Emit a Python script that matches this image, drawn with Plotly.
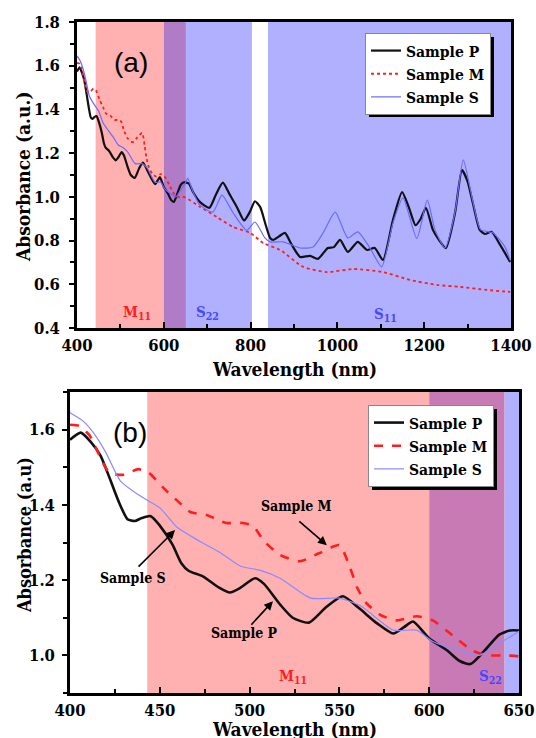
import plotly.graph_objects as go

# ---------------- data ----------------
wl_p = [400, 406, 412, 417, 422, 427, 432, 436, 440, 445, 450, 457, 462, 466, 474, 483, 489, 495,
        503, 508, 517, 524, 533, 543, 552, 561, 571, 580, 586, 591, 600, 610, 617, 623, 632, 639,
        645, 650, 658, 668, 683, 705, 720, 736, 752, 768, 785, 798, 810, 822, 835, 845, 852, 866,
        879, 895, 914, 937, 955, 978, 992, 1006, 1024, 1047, 1068, 1086, 1105, 1128, 1149, 1165,
        1180, 1192, 1204, 1220, 1235, 1250, 1271, 1287, 1300, 1312, 1328, 1340, 1355, 1375, 1398]
abs_p = [1.573, 1.592, 1.565, 1.531, 1.472, 1.41, 1.362, 1.357, 1.365, 1.37, 1.345, 1.295, 1.245,
         1.225, 1.21, 1.18, 1.167, 1.18, 1.205, 1.19, 1.135, 1.10, 1.087, 1.13, 1.157, 1.125,
         1.085, 1.058, 1.075, 1.09, 1.045, 1.013, 0.985, 0.977, 1.019, 1.055, 1.066, 1.066, 1.06,
         1.02, 0.977, 0.95, 1.01, 1.065, 1.01, 0.955, 0.892, 0.93, 0.98, 0.954, 0.87, 0.812, 0.803,
         0.82, 0.835, 0.78, 0.725, 0.73, 0.716, 0.766, 0.77, 0.803, 0.748, 0.794, 0.757, 0.766,
         0.711, 0.894, 1.022, 0.95, 0.87, 0.90, 0.95, 0.849, 0.80, 0.765, 0.926, 1.123, 1.07,
         0.972, 0.849, 0.83, 0.84, 0.78, 0.702]

wl_m = [400, 405, 411, 417, 422, 430, 438, 444, 452, 460, 467, 476, 487, 496, 502, 508, 517, 528,
        539, 550, 556, 560, 565, 573, 582, 593, 602, 613, 624, 632, 641, 650, 683, 722, 760, 799,
        829, 868, 921, 976, 1036, 1105, 1167, 1229, 1283, 1345, 1398]
abs_m = [1.613, 1.61, 1.584, 1.525, 1.485, 1.48, 1.495, 1.485, 1.445, 1.41, 1.381, 1.373, 1.352,
         1.352, 1.344, 1.304, 1.267, 1.25, 1.272, 1.293, 1.232, 1.179, 1.139, 1.107, 1.093, 1.104,
         1.093, 1.053, 1.013, 1.0, 1.0, 0.997, 0.955, 0.908, 0.862, 0.835, 0.789, 0.757, 0.68,
         0.656, 0.67, 0.656, 0.62, 0.597, 0.588, 0.574, 0.565]

wl_s = [400, 407, 413, 420, 428, 439, 450, 460, 472, 484, 495, 506, 517, 534, 550, 562, 580, 593,
        602, 617, 628, 639, 650, 655, 668, 683, 713, 734, 760, 791, 810, 833, 845, 875, 914, 944,
        967, 995, 1024, 1047, 1075, 1102, 1128, 1151, 1183, 1207, 1225, 1248, 1271, 1290, 1312,
        1330, 1359, 1386, 1398]
abs_s = [1.645, 1.624, 1.592, 1.539, 1.464, 1.424, 1.392, 1.339, 1.304, 1.272, 1.237, 1.226,
         1.205, 1.152, 1.152, 1.131, 1.067, 1.067, 1.037, 1.013, 1.0, 1.032, 1.064, 1.085, 1.02,
         0.963, 0.93, 1.008, 0.926, 0.847, 0.885, 0.812, 0.794, 0.794, 0.766, 0.771, 0.835, 0.93,
         0.812, 0.84, 0.766, 0.68, 0.88, 0.995, 0.81, 0.985, 0.849, 0.766, 0.93, 1.169, 0.98,
         0.85, 0.835, 0.771, 0.71]

series_names = ["Sample P", "Sample M", "Sample S"]

# absorption bands (nm)
band_m11 = [443, 600]
band_s22_a = [600, 651, 803]       # overlap start, overlap end, band end (panel a)
band_s11 = [840, 1400]
band_s22_b = [600, 642, 650]       # panel b

W, H = 536, 738
def px(x): return x / W
def py(y): return 1 - y / H

SERIF = "DejaVu Serif Condensed, DejaVu Serif"
SANS = "Liberation Sans"
BLACK = "#111111"
RED = "#ff1e1e"
BLUE_A = "#6a6aff"
BLUE_B = "#8a8aff"
PINK = "#ffb0b0"
LBLUE = "#b0b0ff"
PURPLE_A = "#b07cc8"
PURPLE_B = "#c87ab4"

fig = go.Figure()

# ---- panel (a)
fig.add_trace(go.Scatter(x=wl_p, y=abs_p, name=series_names[0], mode="lines",
                         line=dict(color=BLACK, width=2.2, shape="spline", smoothing=0.6),
                         xaxis="x", yaxis="y", legend="legend"))
fig.add_trace(go.Scatter(x=wl_m, y=abs_m, name=series_names[1], mode="lines",
                         line=dict(color=RED, width=1.8, dash="dot", shape="spline", smoothing=0.6),
                         xaxis="x", yaxis="y", legend="legend"))
fig.add_trace(go.Scatter(x=wl_s, y=abs_s, name=series_names[2], mode="lines",
                         line=dict(color=BLUE_A, width=1.2, shape="spline", smoothing=0.6),
                         xaxis="x", yaxis="y", legend="legend"))
# ---- panel (b)
fig.add_trace(go.Scatter(x=wl_p, y=abs_p, name=series_names[0], mode="lines",
                         line=dict(color=BLACK, width=2.6, shape="spline", smoothing=0.6),
                         xaxis="x2", yaxis="y2", legend="legend2"))
fig.add_trace(go.Scatter(x=wl_m, y=abs_m, name=series_names[1], mode="lines",
                         line=dict(color=RED, width=2.6, dash="dash", shape="spline", smoothing=0.6),
                         xaxis="x2", yaxis="y2", legend="legend2"))
fig.add_trace(go.Scatter(x=wl_s, y=abs_s, name=series_names[2], mode="lines",
                         line=dict(color=BLUE_B, width=1.2, shape="spline", smoothing=0.6),
                         xaxis="x2", yaxis="y2", legend="legend2"))

shapes = []
def band(xref, yref, x0, x1, color):
    shapes.append(dict(type="rect", xref=xref, yref=yref, x0=x0, x1=x1, y0=0, y1=1,
                       fillcolor=color, line=dict(width=0), layer="below"))

band("x", "y domain", band_m11[0], band_m11[1], PINK)
band("x", "y domain", band_s22_a[0], band_s22_a[1], PURPLE_A)
band("x", "y domain", band_s22_a[1], band_s22_a[2], LBLUE)
band("x", "y domain", band_s11[0], band_s11[1], LBLUE)
band("x2", "y2 domain", band_m11[0], band_m11[1], PINK)
band("x2", "y2 domain", band_s22_b[0], band_s22_b[1], PURPLE_B)
band("x2", "y2 domain", band_s22_b[1], band_s22_b[2], LBLUE)

# legend drop shadows (black boxes offset behind each legend box)
shapes.append(dict(type="rect", xref="paper", yref="paper", x0=px(369), x1=px(494),
                   y0=py(117), y1=py(37), fillcolor="black", line=dict(width=0), layer="above"))
shapes.append(dict(type="rect", xref="paper", yref="paper", x0=px(372), x1=px(497),
                   y0=py(490), y1=py(409), fillcolor="black", line=dict(width=0), layer="above"))

ann = []
def txt(x, y, text, size, color="black", xref="paper", yref="paper", bold=True, family=SERIF,
        angle=0):
    ann.append(dict(x=x, y=y, xref=xref, yref=yref, text=text, showarrow=False, textangle=angle,
                    font=dict(family=family, size=size, color=color,
                              weight="bold" if bold else "normal"),
                    xanchor="center", yanchor="middle"))

# panel labels
txt(px(131), py(62), "(a)", 28, bold=False, family=SANS)
txt(px(130), py(432), "(b)", 28, bold=False, family=SANS)
# axis titles
txt(px(294), py(369), "Wavelength (nm)", 19)
txt(px(294), py(729), "Wavelength (nm)", 19)
txt(px(23), py(177), "Absorbance (a.u.)", 19, angle=-90)
txt(px(24), py(535), "Absorbance (a.u)", 18, angle=-90)
# band labels
txt(538, 0.469, "M<sub>11</sub>", 15, RED, "x", "y")
txt(700, 0.469, "S<sub>22</sub>", 15, "#4848ff", "x", "y")
txt(1110, 0.462, "S<sub>11</sub>", 15, "#4848ff", "x", "y")
txt(524, 0.944, "M<sub>11</sub>", 15, RED, "x2", "y2")
txt(634, 0.944, "S<sub>22</sub>", 15, "#4848ff", "x2", "y2")
# sample callouts (panel b)
txt(526, 1.397, "Sample M", 14, xref="x2", yref="y2")
txt(435, 1.205, "Sample S", 14, xref="x2", yref="y2")
txt(497, 1.059, "Sample P", 14, xref="x2", yref="y2")
for hx, hy, ax, ay in [(543, 1.293, -29, -25), (458.5, 1.333, -38, 38), (513, 1.144, -23, 25)]:
    ann.append(dict(x=hx, y=hy, xref="x2", yref="y2", ax=ax, ay=ay, text="",
                    showarrow=True, arrowhead=2, arrowsize=1.1, arrowwidth=1.6,
                    arrowcolor="black"))

tickfont = dict(family=SERIF, size=16.5, color="black", weight="bold")
legfont = dict(family=SERIF, size=15.5, color="black", weight="bold")
common = dict(showgrid=False, zeroline=False, showline=True, linecolor="black", linewidth=2.5,
              mirror=True, tickfont=tickfont, tickcolor="black", automargin=False)

fig.update_layout(
    width=W, height=H, margin=dict(l=0, r=0, t=0, b=0),
    paper_bgcolor="white", plot_bgcolor="white",
    font=dict(family=SERIF),
    xaxis=dict(domain=[px(77), px(511)], range=[400, 1400], anchor="y", dtick=200, tick0=0,
               ticks="inside", ticklen=6, tickwidth=2,
               minor=dict(ticks="inside", ticklen=4, dtick=100, tickwidth=1.5, tickcolor="black"),
               **common),
    yaxis=dict(domain=[py(328), py(22)], range=[0.4, 1.8], anchor="x", dtick=0.2, tick0=0,
               ticks="outside", ticklen=5, tickwidth=2, tickformat=".1f", ticklabelstandoff=6,
               minor=dict(ticks="outside", ticklen=4, dtick=0.1, tickwidth=1.5, tickcolor="black"),
               **common),
    xaxis2=dict(domain=[px(70), px(519)], range=[400, 650], anchor="y2", dtick=50, tick0=0,
                ticks="inside", ticklen=6, tickwidth=2,
                minor=dict(ticks="inside", ticklen=4, dtick=25, tickwidth=1.5, tickcolor="black"),
                **common),
    yaxis2=dict(domain=[py(693), py(392)], range=[0.9, 1.7], anchor="x2", dtick=0.2, tick0=0,
                ticks="outside", ticklen=5, tickwidth=2, tickformat=".1f", ticklabelstandoff=4,
                minor=dict(ticks="outside", ticklen=4, dtick=0.1, tickwidth=1.5, tickcolor="black"),
                **common),
    legend=dict(x=px(365), y=py(33), xanchor="left", yanchor="top", bgcolor="white",
                bordercolor="#888888", borderwidth=1, font=legfont, tracegroupgap=0),
    legend2=dict(x=px(368), y=py(405), xanchor="left", yanchor="top", bgcolor="white",
                 bordercolor="#888888", borderwidth=1, font=legfont, tracegroupgap=0),
    shapes=shapes, annotations=ann, showlegend=True,
)

fig.write_html("out.html")
